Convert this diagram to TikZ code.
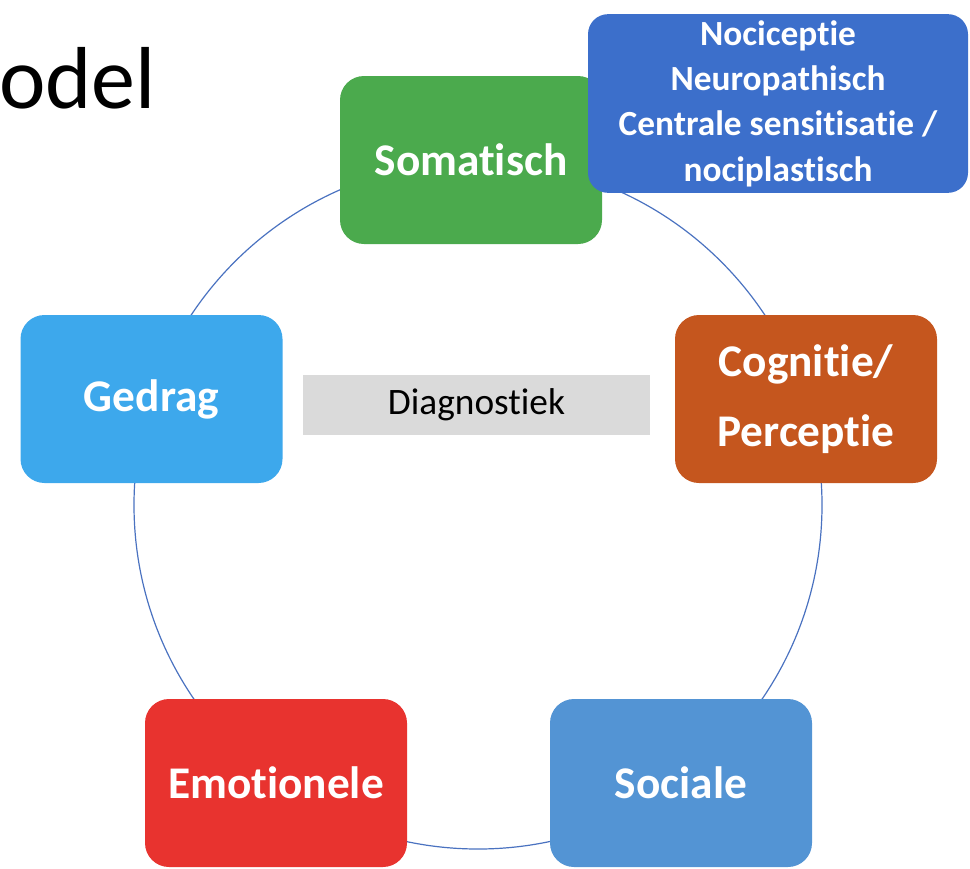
\documentclass[tikz,border=0pt]{standalone}
\usepackage{fontspec}
\setmainfont{Carlito}[Ligatures=NoCommon]
\definecolor{somgreen}{HTML}{4BAA4D}
\definecolor{nocblue}{HTML}{3C6FCB}
\definecolor{gedblue}{HTML}{3DA8EC}
\definecolor{cogorange}{HTML}{C5561E}
\definecolor{emored}{HTML}{E8332F}
\definecolor{socblue}{HTML}{5394D4}
\definecolor{diaggray}{HTML}{DADADA}
\definecolor{ringblue}{HTML}{4A72C0}
\begin{document}
\begin{tikzpicture}[x=0.75pt,y=-0.75pt]
\tikzstyle{pillar}=[rectangle, rounded corners=18pt, minimum width=196.5pt, minimum height=126pt, inner sep=0pt, text=white, align=center, font=\fontsize{34}{52}\selectfont\bfseries]
\tikzstyle{ring}=[draw=ringblue, line width=0.9pt]
\tikzstyle{subbox}=[rectangle, rounded corners=15pt, minimum width=285pt, minimum height=134pt, inner sep=0pt, text=white, align=center, font=\fontsize{26.5}{34}\selectfont\bfseries]
\tikzstyle{center}=[rectangle, fill=diaggray, minimum width=260pt, minimum height=45pt, inner sep=0pt, font=\fontsize{28}{34}\selectfont]

\useasboundingbox (0,0) rectangle (970,868);

% Title (cut off)
\node[anchor=base west, inner sep=0pt, font=\fontsize{66}{70}\selectfont] (title) at (-1,108) {odel};

% Ring behind the boxes
\coordinate (mid) at (478,505);
\draw[ring] (mid) circle [radius=258pt];

% Define pillars
\node[pillar, fill=somgreen] (somatisch) at (471,160) {Somatisch};
\node[pillar, fill=gedblue] (gedrag) at (151.5,399) {Gedrag};
\node[pillar, fill=cogorange] (cognitie) at (806,399) {Cognitie/\\Perceptie};
\node[pillar, fill=emored] (emotionele) at (276,783) {Emotionele};
\node[pillar, fill=socblue] (sociale) at (681,783) {Sociale};

% Detail box
\node[subbox, fill=nocblue] (nociceptie) at (778,103.5) {Nociceptie\\Neuropathisch\\Centrale sensitisatie /\\nociplastisch};

% Middle
\node[center] (diagnostiek) at (476.5,405) {Diagnostiek};
\end{tikzpicture}
\end{document}
